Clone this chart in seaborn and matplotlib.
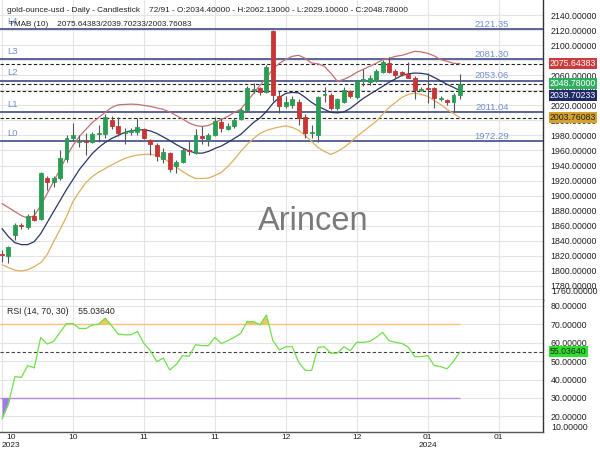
import numpy as np
import pandas as pd
import matplotlib
matplotlib.use("Agg")
import matplotlib.pyplot as plt
import seaborn as sns
from matplotlib.transforms import blended_transform_factory as btf

# ---------------- data ----------------
opens = [1822, 1820, 1847, 1861, 1858, 1873, 1869, 1924, 1918, 1923,
         1949, 1976, 1971, 1972, 1971, 1982, 1982, 2001, 1993, 1983,
         1985, 1984, 1988, 1974, 1967, 1949, 1956, 1939, 1945, 1960,
         1957, 1979, 1974, 1981, 1998, 1988, 1992, 2002, 2014, 2041,
         2043, 2038, 2119, 2032, 2019, 2020, 2025, 2005, 1983, 1981,
         2034, 2034, 2017, 2025, 2039, 2031, 2053, 2051, 2053, 2064,
         2076, 2066, 2064, 2062, 2056, 2041, 2043, 2043, 2029, 2027,
         2025, 2034.4]
highs = [1828, 1833, 1863, 1864, 1875, 1882, 1932, 1926, 1926, 1961,
         1981, 1996, 1981, 1983, 1985, 1994, 2008, 2006, 2005, 1990,
         1990, 2003, 1990, 1975, 1970, 1963, 1958, 1948, 1963, 1972,
         1988, 1992, 1983, 2005, 2003, 1996, 2003, 2016, 2046, 2050,
         2045, 2074, 2121, 2039, 2032, 2033, 2029, 2008, 1994, 2032,
         2045, 2036, 2030, 2044, 2040, 2054, 2068, 2060, 2069, 2081,
         2085, 2068, 2066, 2078, 2059, 2045, 2063, 2045, 2032, 2029,
         2037, 2062.13]
lows = [1812, 1810, 1841, 1856, 1856, 1866, 1867, 1908, 1912, 1921,
        1945, 1974, 1965, 1954, 1970, 1971, 1976, 1989, 1979, 1968,
        1980, 1981, 1975, 1954, 1946, 1943, 1932, 1930, 1943, 1954,
        1955, 1968, 1966, 1979, 1985, 1987, 1990, 2001, 2012, 2037,
        2034, 2037, 2026, 2010, 2016, 2017, 1994, 1976, 1977, 1971,
        2025, 2014, 2014, 2023, 2030, 2029, 2046, 2047, 2051, 2063,
        2063, 2057, 2059, 2056, 2029, 2039, 2023, 2017, 2026, 2020,
        2011, 2029.1]
closes = [1821, 1831, 1861, 1859, 1873, 1868, 1930, 1918, 1924, 1950,
          1976, 1980, 1972, 1971, 1982, 1983, 2004, 1993, 1983, 1985,
          1987, 1991, 1976, 1968, 1952, 1958, 1936, 1945, 1961, 1959,
          1981, 1977, 1981, 1999, 1990, 1993, 2001, 2014, 2043, 2042,
          2038, 2071, 2034, 2019, 2025, 2029, 2003, 1983, 1984, 2031,
          2035, 2017, 2028, 2040, 2032, 2052, 2055, 2057, 2066, 2078,
          2065, 2061, 2062, 2057, 2041, 2042, 2042, 2030, 2030, 2025,
          2034, 2048.78]

tma_upper = [1889.3, 1884.0, 1878.7, 1873.3, 1869.8, 1873.3, 1886.7, 1902.7, 1918.7, 1934.7,
             1952.0, 1966.7, 1978.7, 1988.0, 1997.3, 2004.0, 2010.7, 2017.3, 2020.7, 2021.3,
             2021.7, 2021.3, 2020.0, 2018.7, 2016.7, 2014.7, 2011.3, 2006.7, 2002.0, 1996.7,
             1993.3, 1992.0, 1993.3, 1997.3, 2001.3, 2005.3, 2010.7, 2014.7, 2025.3, 2036.0,
             2046.7, 2057.3, 2068.0, 2076.0, 2081.3, 2085.3, 2086.7, 2082.7, 2076.4, 2075.3,
             2072.0, 2062.7, 2052.0, 2054.7, 2058.7, 2064.0, 2068.0, 2072.0, 2076.0, 2080.7,
             2082.7, 2085.3, 2086.7, 2089.3, 2092.0, 2091.3, 2089.3, 2086.0, 2081.0, 2078.7,
             2076.0, 2075.64383]
tma_mid = [1856.0, 1845.3, 1837.3, 1834.7, 1834.7, 1838.7, 1849.3, 1864.0, 1878.7, 1893.3,
           1908.0, 1921.3, 1934.7, 1945.3, 1956.0, 1964.0, 1970.7, 1976.0, 1980.0, 1984.0,
           1986.0, 1987.3, 1987.6, 1986.0, 1982.7, 1978.0, 1973.3, 1968.0, 1963.3, 1959.3,
           1956.7, 1956.4, 1958.7, 1962.7, 1966.0, 1970.7, 1976.0, 1981.3, 1989.3, 1997.3,
           2003.3, 2012.0, 2022.7, 2030.7, 2036.0, 2037.3, 2036.7, 2030.7, 2024.0, 2018.7,
           2014.7, 2010.7, 2010.0, 2011.3, 2016.0, 2022.7, 2029.3, 2034.7, 2040.0, 2045.3,
           2050.7, 2055.3, 2060.0, 2062.0, 2063.1, 2062.7, 2061.3, 2057.3, 2052.7, 2048.0,
           2044.0, 2039.70233]
tma_lower = [1808.0, 1804.0, 1800.7, 1799.6, 1801.3, 1805.3, 1810.7, 1821.3, 1838.7, 1854.7,
             1872.0, 1892.0, 1905.3, 1917.3, 1925.3, 1931.3, 1936.0, 1940.7, 1945.3, 1949.3,
             1952.0, 1954.0, 1954.7, 1955.1, 1953.3, 1950.0, 1944.0, 1938.0, 1932.0, 1926.7,
             1922.7, 1922.7, 1923.3, 1926.7, 1930.7, 1938.7, 1948.0, 1958.7, 1968.0, 1976.0,
             1982.7, 1986.7, 1989.3, 1991.3, 1992.7, 1990.7, 1986.7, 1980.0, 1972.0, 1964.0,
             1958.7, 1954.7, 1958.7, 1964.0, 1970.7, 1978.7, 1985.3, 1992.0, 1998.7, 2008.0,
             2017.3, 2024.0, 2030.7, 2034.7, 2036.4, 2034.7, 2032.0, 2026.7, 2021.3, 2014.7,
             2009.3, 2003.76083]
rsi = [18.7, 26.9, 41.6, 41.2, 47.6, 46.3, 62.9, 59.3, 60.7, 65.6,
       70.4, 70.4, 67.7, 67.7, 69.6, 70.1, 73.4, 69.2, 64.7, 64.3,
       64.3, 66.1, 59.6, 55.7, 49.7, 51.7, 45.2, 48.1, 53.0, 52.6,
       58.9, 58.4, 58.4, 62.9, 59.6, 61.1, 62.9, 65.0, 71.5, 71.5,
       69.7, 75.1, 61.1, 56.1, 57.8, 57.8, 49.4, 45.0, 44.9, 57.5,
       57.8, 54.2, 54.4, 57.8, 55.7, 60.2, 60.2, 60.7, 62.9, 65.6,
       61.1, 60.2, 59.6, 57.5, 52.4, 52.4, 53.0, 47.6, 47.0, 45.8,
       49.9, 55.0364]

levels = [1972.29, 2011.04, 2053.06, 2081.30, 2121.35]
level_names = ["L0", "L1", "L2", "L3", "L4"]
xtick_pos = [0, 11, 22, 33, 44, 55, 66, 77]
xtick_labels = ["10\n2023", "10", "11", "11", "12", "12", "01\n2024", "01"]
price_ticks = list(range(1780, 2141, 20))
rsi_ticks = [20, 30, 40, 50, 60, 70, 80]

title = ("gold-ounce-usd - Daily - Candlestick    72/91 - O:2034.40000 - "
         "H:2062.13000 - L:2029.10000 - C:2048.78000")
tmab_text = "TMAB (10)    2075.64383/2039.70233/2003.76083"
rsi_text = "RSI (14, 70, 30)    55.03640"

# ---------------- style ----------------
sns.set_theme(style="white")
plt.rcParams["font.family"] = ["Liberation Sans", "DejaVu Sans"]
FS = 6.3

df = pd.DataFrame({"i": np.arange(len(closes)), "open": opens, "high": highs,
                   "low": lows, "close": closes, "up": tma_upper,
                   "mid": tma_mid, "lo": tma_lower, "rsi": rsi})

fig = plt.figure(figsize=(6, 4.5), dpi=100)
ax = fig.add_axes([0, 150 / 450, 543 / 600, 300 / 450])
ax2 = fig.add_axes([0, 18 / 450, 543 / 600, 132 / 450], sharex=ax)

XMIN, XMAX = -2 / 6.45, 541 / 6.45
GRID = "#e4e4e4"
LVL = "#2e3b7c"
LBL = "#6f8fd2"

for a in (ax, ax2):
    a.set_facecolor("white")
    for s in ("left", "top"):
        a.spines[s].set_visible(False)
    a.spines["right"].set_color("#333333")
    a.spines["bottom"].set_color("#555555")
    a.spines["right"].set_linewidth(1.0)
    a.spines["bottom"].set_linewidth(1.0)
    a.yaxis.tick_right()
    a.tick_params(axis="y", length=0, pad=5.5, labelsize=FS, colors="#222222")
    a.set_xticks(xtick_pos)
    for xp in xtick_pos:
        a.axvline(xp, color=GRID, lw=0.8, zorder=0)

# ---------------- main panel ----------------
ax.set_xlim(XMIN, XMAX)
ax.set_ylim(1761, 2160.3)
ax.set_yticks(price_ticks)
ax.set_yticklabels([f"{t:.5f}" for t in price_ticks])
for t in price_ticks:
    ax.axhline(t, color=GRID, lw=0.8, zorder=0)
ax.tick_params(axis="x", length=0, labelbottom=False)
ax.text(1 + 8 / 543, 1771.7, "1760.00000", transform=btf(ax.transAxes, ax.transData),
        ha="left", va="center", fontsize=FS, color="#222222", clip_on=False)

# level lines
for v, nm in zip(levels, level_names):
    ax.axhline(v, color=LVL, lw=1.1, zorder=2)
    ax.text(7 / 543, v + 10.5, nm, transform=btf(ax.transAxes, ax.transData),
            ha="left", va="center", fontsize=FS + 0.5, color=LBL)
    ax.text(509 / 543, v + 6.5, f"{v:.2f}", transform=btf(ax.transAxes, ax.transData),
            ha="right", va="center", fontsize=FS + 0.5, color=LBL)

# dashed current-value lines
for v in (tma_upper[-1], closes[-1], tma_mid[-1], tma_lower[-1]):
    ax.axhline(v, color="#222222", lw=0.8, ls=(0, (3, 2)), zorder=2)

# bands
sns.lineplot(data=df, x="i", y="up", ax=ax, color="#c4706f", lw=0.9, zorder=3)
sns.lineplot(data=df, x="i", y="mid", ax=ax, color="#2b3566", lw=0.9, zorder=3)
sns.lineplot(data=df, x="i", y="lo", ax=ax, color="#dcb060", lw=0.9, zorder=3)

# candles
GREEN, RED = "#2a9d55", "#c93434"
col = [GREEN if c >= o else RED for o, c in zip(df["open"], df["close"])]
ax.vlines(df["i"], df["low"], df["high"], color="#555555", lw=0.8, zorder=4)
body_lo = np.minimum(df["open"], df["close"])
body_h = np.maximum(np.abs(df["close"] - df["open"]), 0.6)
ax.bar(df["i"], body_h, bottom=body_lo, width=0.62, color=col, edgecolor=col,
       linewidth=0.6, zorder=5)

ax.set_xlabel("")
ax.set_ylabel("")

# watermark
ax.text(313 / 543, 1 - 222 / 300, "Arincen", transform=ax.transAxes, ha="center",
        va="center", fontsize=23.5, color="#7a7a7a", zorder=6)

# header texts
ax.text(7 / 543, 1 - 10 / 300, title, transform=ax.transAxes, ha="left", va="center",
        fontsize=5.95, color="#222222")
ax.text(9 / 543, 1 - 25 / 300, tmab_text, transform=ax.transAxes, ha="left", va="center",
        fontsize=5.85, color="#222222")

# price boxes (the navy one is nudged down so it does not cover the close box)
boxes = [(tma_upper[-1], 0.0, "#cc3b3b", "white"), (closes[-1], 0.0, "#2fae5f", "white"),
         (tma_mid[-1], -6.3, "#1e2a66", "white"), (tma_lower[-1], 0.0, "#d6a22c", "#222222")]
for v, dy, fc, tc in boxes:
    ax.text(1 + 7 / 543, v + dy, f"{v:.5f}", transform=btf(ax.transAxes, ax.transData),
            ha="left", va="center", fontsize=FS, color=tc, clip_on=False, zorder=10,
            bbox=dict(boxstyle="square,pad=0.12", fc=fc, ec="none"))

# ---------------- RSI panel ----------------
ax2.set_ylim(11.5, 83.2)
ax2.set_yticks(rsi_ticks)
ax2.set_yticklabels([f"{t:.5f}" for t in rsi_ticks])
for t in rsi_ticks:
    ax2.axhline(t, color=GRID, lw=0.8, zorder=0)
ax2.text(1 + 8 / 543, 14.1, "10.00000", transform=btf(ax2.transAxes, ax2.transData),
         ha="left", va="center", fontsize=FS, color="#222222", clip_on=False)

last = len(rsi) - 1
ax2.hlines(70, XMIN, last, color="#f3c57a", lw=1.0, zorder=2)
ax2.hlines(30, XMIN, last, color="#b58ad6", lw=1.0, zorder=2)
r = np.array(rsi)
ax2.fill_between(df["i"], r, 70, where=r > 70, interpolate=True, color="#f0c050",
                 alpha=0.9, lw=0, zorder=2)
ax2.fill_between(df["i"], r, 30, where=r < 30, interpolate=True, color="#a27ae6",
                 lw=0, zorder=2)
ax2.axhline(rsi[-1], color="#444444", lw=0.8, ls=(0, (3, 2)), zorder=2)
sns.lineplot(data=df, x="i", y="rsi", ax=ax2, color="#6ee04a", lw=0.9, zorder=3)
ax2.set_xlabel("")
ax2.set_ylabel("")
ax2.text(7 / 543, 1 - 12 / 132, rsi_text, transform=ax2.transAxes, ha="left",
         va="center", fontsize=FS, color="#222222")
ax2.text(1 + 7 / 543, rsi[-1], f"{rsi[-1]:.5f}", transform=btf(ax2.transAxes, ax2.transData),
         ha="left", va="center", fontsize=FS, color="#222222", clip_on=False, zorder=10,
         bbox=dict(boxstyle="square,pad=0.12", fc="#2ee02e", ec="none"))

ax2.set_xticks(xtick_pos)
ax2.set_xticklabels(xtick_labels, linespacing=1.35)
ax2.tick_params(axis="x", length=0, pad=1.2, labelsize=6.0, colors="#222222")
labs = ax2.get_xticklabels()
labs[0].set_ha("left")
labs[0].set_multialignment("center")

fig.savefig("out.png", dpi=100, facecolor="white")
